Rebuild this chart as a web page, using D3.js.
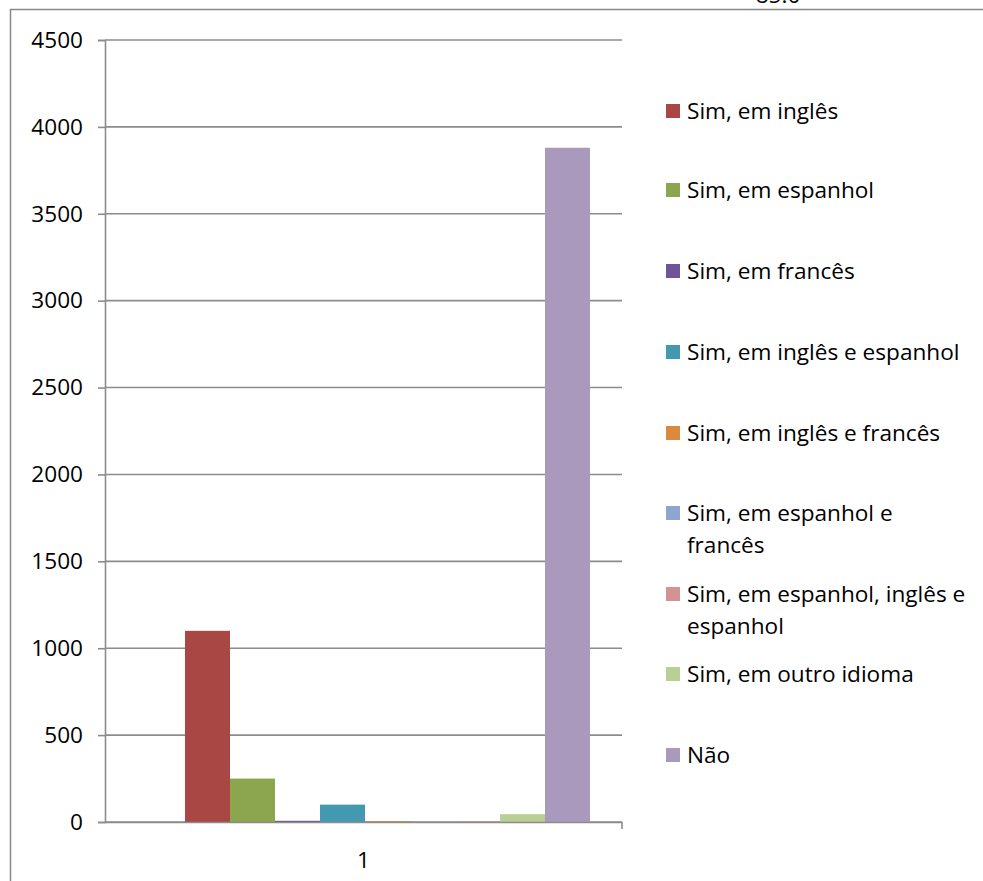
<!DOCTYPE html>
<html>
<head>
<meta charset="utf-8">
<script src="https://cdn.jsdelivr.net/npm/d3@7"></script>
<style>
  body { margin: 0; background: #fff; }
  svg text { font-family: "Open Sans", sans-serif; fill: #000; }
</style>
</head>
<body>
<div id="chart"></div>
<script>
// chart data
const categories = ['1'];
const seriesNames = [
  'Sim, em inglês',
  'Sim, em espanhol',
  'Sim, em francês',
  'Sim, em inglês e espanhol',
  'Sim, em inglês e francês',
  'Sim, em espanhol e francês',
  'Sim, em espanhol, inglês e espanhol',
  'Sim, em outro idioma',
  'Não'
];
const seriesValues = [1100, 250, 7, 100, 5, 2, 5, 45, 3880];
const seriesColors = ['#A94744', '#8BA64E', '#6F5596', '#4299B0', '#DA8A3C', '#8EA6CE', '#D39394', '#B8CF96', '#A99ABD'];
const yTicks = [0, 500, 1000, 1500, 2000, 2500, 3000, 3500, 4000, 4500];
// legend lines (wrapped like the original)
const legendLines = [
  ['Sim, em inglês'],
  ['Sim, em espanhol'],
  ['Sim, em francês'],
  ['Sim, em inglês e espanhol'],
  ['Sim, em inglês e francês'],
  ['Sim, em espanhol e', 'francês'],
  ['Sim, em espanhol, inglês e', 'espanhol'],
  ['Sim, em outro idioma'],
  ['Não']
];

const config = {
  width: 983,
  height: 881,
  fontSize: '22.6px',
  plot: { left: 105, right: 622, top: 40, bottom: 822 },
  groupRange: [185, 590]
};

const svg = d3.select('#chart')
  .append('svg')
  .attr('width', config.width)
  .attr('height', config.height);

// outer frame (partially cropped)
svg.append('path')
  .attr('d', `M10.5,${config.height} L10.5,9.5 L${config.width},9.5`)
  .attr('fill', 'none')
  .attr('stroke', '#888')
  .attr('stroke-width', 1.5);

// cropped title fragment at the top
svg.append('text')
  .attr('x', 778)
  .attr('y', 3)
  .attr('text-anchor', 'middle')
  .style('font-size', config.fontSize)
  .text('85.0');

const yscale = d3.scaleLinear()
  .domain([0, 4500])
  .range([config.plot.bottom, config.plot.top]);

const x0 = d3.scaleBand()
  .domain(categories)
  .range([config.plot.left, config.plot.right]);

const x1 = d3.scaleBand()
  .domain(seriesNames)
  .range(config.groupRange);

// gridlines
svg.append('g')
  .selectAll('line')
  .data(yTicks)
  .enter()
  .append('line')
  .attr('x1', config.plot.left)
  .attr('x2', config.plot.right)
  .attr('y1', d => yscale(d))
  .attr('y2', d => yscale(d))
  .attr('stroke', '#8c8c8c')
  .attr('stroke-width', 1.6);

// y axis
const yAxis = svg.append('g')
  .attr('transform', `translate(${config.plot.left},0)`)
  .call(d3.axisLeft(yscale).tickValues(yTicks).tickFormat(d3.format('d')).tickSize(7).tickPadding(15));
yAxis.selectAll('path, line').attr('stroke', '#8c8c8c').attr('stroke-width', 1.6);
yAxis.selectAll('text').style('font-size', config.fontSize).style('font-family', '"Open Sans", sans-serif');

// bars
svg.append('g')
  .selectAll('rect')
  .data(seriesValues)
  .enter()
  .append('rect')
  .attr('x', (d, i) => x1(seriesNames[i]))
  .attr('width', x1.bandwidth())
  .attr('y', d => yscale(d))
  .attr('height', d => yscale(0) - yscale(d))
  .attr('fill', (d, i) => seriesColors[i]);

// x axis
const xAxis = svg.append('g')
  .attr('transform', `translate(0,${config.plot.bottom})`)
  .call(d3.axisBottom(x0).tickSize(0).tickPadding(30));
xAxis.select('path.domain').remove();
xAxis.selectAll('text').style('font-size', config.fontSize).style('font-family', '"Open Sans", sans-serif');
svg.append('path')
  .attr('d', `M${config.plot.left},${yscale(0) + 0.5} L${config.plot.right},${yscale(0) + 0.5} L${config.plot.right},${yscale(0) + 7}`)
  .attr('fill', 'none')
  .attr('stroke', '#8c8c8c')
  .attr('stroke-width', 1.6);

// legend
const legendY = [111, 190, 271, 352, 433, 513, 594, 674, 755];
const legend = svg.append('g')
  .selectAll('g')
  .data(legendLines)
  .enter()
  .append('g')
  .attr('transform', (d, i) => `translate(666,${legendY[i]})`);

legend.append('rect')
  .attr('x', 0)
  .attr('y', -7)
  .attr('width', 14)
  .attr('height', 14)
  .attr('fill', (d, i) => seriesColors[i]);

legend.append('text')
  .style('font-size', config.fontSize)
  .selectAll('tspan')
  .data(d => d)
  .enter()
  .append('tspan')
  .attr('x', 21)
  .attr('y', (d, i) => i * 32)
  .attr('dy', '0.35em')
  .text(d => d);
</script>
</body>
</html>
